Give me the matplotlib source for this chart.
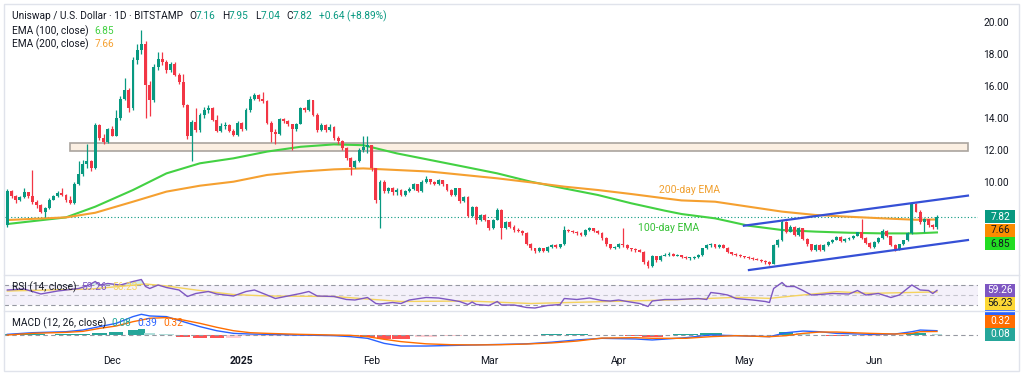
import numpy as np
import pandas as pd
import matplotlib
matplotlib.use('Agg')
import matplotlib.pyplot as plt
from matplotlib.patches import Rectangle
from matplotlib.lines import Line2D
from matplotlib.transforms import IdentityTransform

plt.rcParams['font.family'] = ['Roboto', 'DejaVu Sans']

W, H = 1024, 376

# daily candles UNI/USD (BITSTAMP), open = previous close
start_date = '2024-11-06'
first_open = 7.30
closes = [
    9.45, 9.15, 8.85, 9.05, 9.35, 9.1, 8.75, 8.55, 8.15, 8.35,
    8.9, 9.1, 9.3, 9.2, 8.85, 8.7, 9.9, 10.5, 11.1, 11.3,
    10.85, 13.55, 12.75, 12.5, 13.3, 12.9, 13.98, 15.2, 15.75, 14.6,
    17.6, 18.25, 18.65, 16.05, 15.1, 17.2, 17.7, 17.5, 17.0, 17.35,
    16.7, 16.25, 14.8, 12.85, 13.75, 13.25, 14.2, 14.5, 14.65, 13.9,
    13.2, 13.5, 13.55, 13.2, 12.95, 13.7, 13.3, 14.5, 15.2, 15.45,
    15.2, 15.05, 13.7, 13.15, 13.0, 13.95, 13.8, 13.6, 13.3, 13.65,
    14.6, 14.5, 15.1, 14.2, 13.25, 13.55, 13.25, 13.45, 12.75, 12.55,
    12.1, 11.5, 10.95, 11.3, 12.0, 12.2, 12.3, 10.85, 8.9, 10.0,
    9.45, 9.6, 9.35, 9.5, 9.2, 9.45, 9.55, 9.85, 9.45, 10.0,
    10.2, 10.0, 9.85, 10.1, 9.85, 9.5, 9.2, 9.6, 8.8, 9.05,
    7.85, 8.45, 7.65, 7.95, 7.6, 7.1, 7.65, 8.25, 7.1, 7.5,
    7.2, 7.0, 6.95, 6.8, 6.15, 5.85, 5.7, 5.85, 5.7, 5.95,
    6.05, 5.95, 6.1, 7.0, 6.95, 6.85, 6.8, 6.7, 7.0, 7.1,
    6.95, 6.8, 6.5, 6.1, 5.85, 5.95, 6.15, 6.05, 5.85, 5.8,
    5.75, 5.65, 5.0, 4.75, 5.35, 5.1, 5.4, 5.45, 5.5, 5.4,
    5.45, 5.3, 5.25, 5.25, 5.3, 5.45, 5.85, 6.05, 6.1, 5.95,
    6.05, 5.9, 5.6, 5.5, 5.45, 5.35, 5.3, 5.25, 5.2, 5.15,
    5.05, 5.0, 4.9, 6.05, 6.35, 7.5, 6.9, 7.2, 6.7, 7.1,
    6.45, 6.1, 5.75, 6.05, 5.75, 6.05, 6.25, 6.4, 6.55, 6.3,
    6.45, 6.5, 6.6, 6.85, 6.5, 6.2, 5.95, 6.25, 6.5, 6.95,
    6.6, 6.05, 5.75, 6.1, 6.35, 6.8, 8.6, 8.15, 7.5, 7.7,
    7.3, 7.16, 7.82,
]
highs = [
    9.55, 9.5, 9.2, 9.15, 9.6, 9.4, 10.75, 8.85, 8.6, 8.45,
    9.0, 9.2, 9.45, 9.6, 9.25, 9.1, 10.0, 11.3, 11.4, 12.4,
    11.4, 13.7, 13.6, 13.0, 13.4, 13.5, 14.5, 15.4, 16.5, 15.9,
    17.8, 18.6, 19.5, 18.8, 16.3, 17.4, 18.1, 18.1, 17.6, 17.5,
    17.5, 16.8, 16.75, 14.9, 13.9, 14.6, 14.3, 14.7, 14.8, 14.7,
    14.2, 13.7, 13.75, 13.6, 13.3, 13.8, 13.75, 14.6, 15.35, 15.55,
    15.5, 15.65, 15.1, 13.8, 13.3, 14.0, 14.0, 13.9, 13.65, 13.7,
    14.7, 14.7, 15.2, 15.15, 14.3, 13.7, 13.6, 13.6, 13.5, 12.85,
    12.6, 12.2, 11.55, 11.4, 12.1, 12.85, 12.9, 12.3, 10.9, 10.1,
    10.1, 9.7, 9.7, 9.6, 9.55, 9.5, 9.7, 9.95, 9.9, 10.1,
    10.35, 10.2, 10.05, 10.2, 10.1, 9.9, 9.55, 9.65, 9.65, 9.15,
    9.1, 8.5, 8.5, 8.0, 8.0, 7.65, 7.7, 8.4, 8.3, 7.55,
    7.55, 7.3, 7.1, 7.0, 6.85, 6.2, 5.9, 5.95, 5.9, 6.0,
    6.1, 6.1, 6.15, 7.25, 7.05, 7.0, 6.95, 6.85, 7.05, 7.2,
    7.15, 7.0, 6.85, 6.55, 6.15, 6.0, 6.2, 7.1, 6.1, 5.9,
    5.85, 5.8, 5.7, 5.1, 5.45, 5.4, 5.45, 5.55, 5.6, 5.55,
    5.5, 5.45, 5.35, 5.3, 5.35, 5.5, 5.9, 6.15, 6.2, 6.15,
    6.1, 6.1, 5.95, 5.65, 5.55, 5.5, 5.4, 5.35, 5.3, 5.25,
    5.2, 5.1, 5.05, 6.1, 6.45, 7.6, 7.55, 7.3, 7.25, 7.2,
    7.15, 6.5, 6.15, 6.1, 6.1, 6.1, 6.3, 6.45, 6.6, 6.6,
    6.5, 6.55, 6.7, 6.9, 7.67, 6.55, 6.25, 6.3, 6.55, 7.05,
    7.0, 6.65, 6.1, 6.15, 6.4, 6.85, 8.7, 8.7, 8.25, 7.75,
    7.7, 7.35, 7.95,
]
lows = [
    7.2, 9.0, 8.7, 8.8, 9.0, 9.0, 8.65, 8.4, 8.05, 7.8,
    8.3, 8.85, 9.05, 9.1, 8.75, 8.6, 8.65, 9.8, 10.4, 10.9,
    10.7, 10.8, 12.6, 12.4, 12.45, 12.85, 12.85, 13.9, 15.1, 14.4,
    14.5, 17.4, 18.0, 14.0, 14.1, 15.0, 17.0, 17.3, 16.8, 16.9,
    16.6, 16.1, 14.7, 12.7, 11.3, 13.1, 13.1, 14.0, 14.3, 13.8,
    13.1, 13.1, 13.3, 13.1, 12.85, 12.9, 13.2, 13.25, 14.4, 15.1,
    15.05, 14.95, 13.6, 12.5, 12.4, 12.95, 13.7, 13.5, 12.0, 13.2,
    13.6, 14.35, 14.45, 14.1, 13.1, 13.2, 13.1, 13.2, 12.65, 12.4,
    12.0, 11.4, 10.45, 10.9, 11.25, 11.9, 11.8, 10.7, 8.7, 7.1,
    9.3, 9.3, 9.2, 9.2, 9.1, 9.1, 9.4, 9.5, 9.35, 9.4,
    9.95, 9.9, 9.8, 9.8, 9.75, 9.45, 9.1, 9.15, 8.7, 8.75,
    7.8, 7.8, 7.4, 7.55, 7.55, 7.0, 7.05, 7.6, 6.45, 7.05,
    7.1, 6.9, 6.85, 6.7, 6.05, 5.75, 5.55, 5.65, 5.65, 5.65,
    5.9, 5.9, 5.9, 6.05, 6.85, 6.8, 6.7, 6.6, 6.65, 6.95,
    6.85, 6.75, 6.4, 6.0, 5.8, 5.8, 5.9, 5.95, 5.8, 5.7,
    5.65, 5.6, 4.9, 4.6, 4.7, 5.0, 5.05, 5.35, 5.4, 5.35,
    5.35, 5.25, 5.2, 5.15, 5.2, 5.25, 5.4, 5.8, 5.95, 5.9,
    5.9, 5.85, 5.55, 5.45, 5.4, 5.3, 5.25, 5.2, 5.15, 5.1,
    5.0, 4.9, 4.8, 4.85, 5.95, 6.3, 6.8, 6.85, 6.6, 6.65,
    6.4, 6.0, 5.7, 5.7, 5.7, 5.7, 6.0, 6.2, 6.35, 6.25,
    6.25, 6.4, 6.45, 6.6, 6.45, 6.15, 5.9, 5.9, 6.2, 6.45,
    6.55, 6.0, 5.7, 5.75, 6.05, 6.3, 6.75, 8.1, 7.4, 6.85,
    7.2, 7.05, 7.04,
]

# EMA values read at these bar numbers
ema_x = [0, 14, 21, 30, 38, 46, 54, 62, 70, 78, 85, 93, 101, 109, 117,
         125, 133, 141, 149, 157, 161, 169, 177, 185, 193, 201, 209, 217, 222]
ema100 = [7.375, 7.79, 8.46, 9.5, 10.54, 11.17, 11.48, 11.9, 12.2, 12.35, 12.3,
          11.79, 11.375, 10.96, 10.54, 10.02, 9.6, 9.19, 8.67, 8.21, 8.0, 7.73,
          7.27, 7.0, 6.9, 6.83, 6.79, 6.79, 6.85]
ema200 = [7.625, 7.79, 8.08, 8.77, 9.4, 9.77, 10.02, 10.44, 10.65, 10.79, 10.85,
          10.75, 10.65, 10.44, 10.23, 9.98, 9.71, 9.5, 9.25, 8.98, 8.85, 8.77,
          8.46, 8.15, 7.94, 7.83, 7.73, 7.64, 7.66]

# RSI(14) and its moving average
rsi_x = [0, 4, 8, 12, 17, 19, 21, 22, 24, 27, 30, 32, 33, 34, 36, 38, 41, 43, 45, 48,
         50, 54, 57, 59, 62, 64, 67, 70, 72, 74, 78, 81, 83, 86, 88, 89, 92, 94, 96, 100,
         103, 106, 108, 110, 111, 112, 115, 117, 118, 121, 124, 126, 129, 132, 133, 136,
         139, 142, 144, 146, 148, 151, 153, 154, 157, 160, 165, 167, 168, 170, 172, 174,
         178, 181, 182, 183, 185, 186, 188, 190, 192, 194, 197, 201, 203, 205, 208, 211,
         213, 216, 218, 220, 221, 222]
rsi = [60, 62, 52, 58, 63, 68, 77, 70, 73, 70, 77, 81, 67, 63, 70, 65, 60, 47, 53, 57,
       52, 48, 57, 60, 50, 43, 48, 53, 57, 48, 47, 41, 40, 45, 33, 32, 35, 33, 40, 45,
       44, 40, 37, 31, 36, 31, 29, 37, 30, 30, 25, 24, 29, 31, 43, 41, 44, 39, 38, 40,
       37, 33, 27, 38, 41, 41, 43, 41, 55, 53, 50, 43, 40, 37, 35, 63, 75, 67, 67, 59,
       50, 51, 53, 52, 59, 50, 53, 45, 50, 70, 60, 59, 53, 59.26]
rsi_ma_x = [0, 10, 20, 28, 33, 38, 45, 54, 62, 78, 94, 110, 125, 142, 158, 174, 182,
            186, 194, 198, 206, 214, 222]
rsi_ma = [58, 60, 62, 68, 72, 68, 60, 51, 48, 47, 37, 38, 33, 36.7, 40, 45.3, 43.3,
          46.7, 53.3, 56.7, 53.3, 54.7, 56.23]

# MACD(12, 26) and signal
macd_x = [0, 6, 14, 18, 22, 26, 30, 32, 34, 38, 42, 46, 50, 54, 58, 62, 70, 78, 82, 86,
          90, 94, 100, 106, 112, 118, 124, 130, 136, 142, 150, 154, 162, 168, 174, 182,
          186, 190, 194, 198, 206, 212, 216, 218, 222]
macd = [0.06, 0.21, 0.3, 0.45, 0.76, 1.06, 1.67, 1.88, 1.73, 1.67, 1.21, 0.76, 0.39,
        0.15, 0.09, 0.06, 0.0, -0.06, -0.15, -0.3, -0.76, -1.0, -1.0, -0.95, -0.9,
        -0.85, -0.8, -0.65, -0.45, -0.3, -0.36, -0.45, -0.24, 0.0, -0.06, -0.15, 0.21,
        0.36, 0.3, 0.15, 0.06, 0.09, 0.3, 0.45, 0.39]
signal = [0.0, 0.15, 0.24, 0.33, 0.6, 0.82, 1.21, 1.36, 1.52, 1.58, 1.36, 1.06, 0.7,
          0.39, 0.21, 0.15, 0.06, 0.0, -0.03, -0.15, -0.39, -0.6, -0.8, -0.88, -0.9,
          -0.88, -0.82, -0.72, -0.55, -0.28, -0.24, -0.3, -0.3, -0.15, -0.06, -0.15,
          -0.06, 0.15, 0.27, 0.27, 0.15, 0.09, 0.15, 0.3, 0.32]

# drawn annotations (bar number, price)
zone_x = [14.9, 229.4]
zone_y = [11.96, 12.45]
channel_top_x = [175.9, 229.4]
channel_top_y = [7.27, 9.15]
channel_bot_x = [177.1, 229.4]
channel_bot_y = [4.50, 6.375]

UP, DOWN = '#089981', '#f23645'
DARK = '#131722'
G100, O200 = '#43d143', '#f5a030'
PURPLE, YELLOW = '#7e57c2', '#f5d35e'
BLUE, ORANGE, TEAL = '#2962ff', '#ff6d00', '#26a69a'

n = len(closes)
dates = pd.date_range(start_date, periods=n, freq='D')
x = np.arange(n)
c = np.array(closes)
o = np.r_[first_open, c[:-1]]
hi = np.maximum(np.array(highs), np.maximum(o, c))
lo = np.minimum(np.array(lows), np.minimum(o, c))

fig = plt.figure(figsize=(W / 100, H / 100), dpi=100)


def px_axes(x0, y0, x1, y1):
    a = fig.add_axes([x0 / W, 1 - y1 / H, (x1 - x0) / W, (y1 - y0) / H])
    a.set_xlim(-0.8, 231.8)
    for s in a.spines.values():
        s.set_visible(False)
    a.tick_params(left=False, labelleft=False, bottom=False, labelbottom=False)
    a.patch.set_alpha(0)
    return a


ax = px_axes(4, 5, 978, 275)
ax_rsi = px_axes(4, 275, 978, 311)
ax_macd = px_axes(4, 311, 978, 349)

# main price pane
ax.set_ylim(4.19, 21.06)
ax.add_patch(Rectangle((zone_x[0], zone_y[0]), zone_x[1] - zone_x[0], zone_y[1] - zone_y[0],
                       fc='#fbefe2', ec='#aaa49e', lw=1.2, zorder=1))
col = np.where(c >= o, UP, DOWN)
ax.vlines(x, lo, hi, colors=col, lw=0.9, zorder=3)
ax.bar(x, np.maximum(np.abs(c - o), 0.04), bottom=np.minimum(o, c), width=0.7,
       color=col, lw=0, zorder=3)
ax.plot(ema_x, ema100, color=G100, lw=1.5, zorder=2)
ax.plot(ema_x, ema200, color=O200, lw=1.5, zorder=2)
ax.plot(channel_top_x, channel_top_y, color='#3550d6', lw=1.6, zorder=4)
ax.plot(channel_bot_x, channel_bot_y, color='#3550d6', lw=1.6, zorder=4)
ax.axhline(c[-1], color=UP, ls=(0, (1, 2)), lw=0.8, zorder=1)
ax.text(155.6, 9.5, '200-day EMA', color='#f0a030', fontsize=7.5, va='center')
ax.text(150.5, 7.12, '100-day EMA', color='#35c035', fontsize=7.5, va='center')
ax.yaxis.tick_right()
ax.set_yticks([10, 12, 14, 16, 18, 20])
ax.set_yticklabels([f'{v:.2f}' for v in [10, 12, 14, 16, 18, 20]])
ax.tick_params(axis='y', right=False, labelright=True, length=0, pad=4,
               labelsize=7.3, labelcolor=DARK)

# RSI pane
ax_rsi.set_ylim(18, 90)
ax_rsi.axhspan(30, 70, color=PURPLE, alpha=0.08, lw=0)
for lvl, a in [(70, 1), (50, 0.5), (30, 1)]:
    ax_rsi.axhline(lvl, color='#9598a1', lw=0.8, ls=(0, (4, 3)), alpha=a)
r = np.array(rsi, dtype=float)
ax_rsi.fill_between(rsi_x, 70, r, where=r > 70, interpolate=True, color=UP, alpha=0.18, lw=0)
ax_rsi.plot(rsi_ma_x, rsi_ma, color=YELLOW, lw=1)
ax_rsi.plot(rsi_x, rsi, color=PURPLE, lw=1)

# MACD pane
ax_macd.set_ylim(-1.27, 2.18)
ax_macd.axhline(0, color='#9598a1', lw=0.8, ls=(0, (4, 3)))
mx = np.array(macd_x, dtype=float)
hist = np.array(macd) - np.array(signal)
edges = np.r_[mx[0] - 1, (mx[1:] + mx[:-1]) / 2, mx[-1] + 1]
widths = np.diff(edges) * 0.85
prev = np.r_[0, hist[:-1]]
hcol = np.where(hist >= 0, np.where(hist >= prev, '#26a69a', '#b2dfdb'),
                np.where(hist <= prev, '#ff5252', '#ffcdd2'))
ax_macd.bar(mx, hist, width=widths, color=hcol, lw=0)
ax_macd.plot(macd_x, macd, color=BLUE, lw=1)
ax_macd.plot(macd_x, signal, color=ORANGE, lw=1)

month_starts = dates[dates.day == 1]
tick_pos = [dates.get_loc(d) for d in month_starts]
tick_lab = ['2025' if d.month == 1 else d.strftime('%b') for d in month_starts]
ax_macd.set_xticks(tick_pos)
ax_macd.set_xticklabels(tick_lab)
ax_macd.tick_params(axis='x', labelbottom=True, length=0, pad=5, labelsize=7.5, labelcolor=DARK)
for t in ax_macd.get_xticklabels():
    if t.get_text() == '2025':
        t.set_fontweight('bold')

# frame and pane separators
ID = IdentityTransform()
fig.add_artist(Rectangle((4, H - 371), 1015, 367, transform=ID, fill=False, ec='#e0e3eb', lw=1))
for yy in (275, 311):
    fig.add_artist(Line2D([4, 1019], [H - yy, H - yy], transform=ID, color='#e0e3eb', lw=1))

renderer = fig.canvas.get_renderer()


def text_row(x0, y_top, parts, size=7.3):
    xx = x0
    for s, color, gap in parts:
        t = fig.text(xx, H - y_top, s, color=color, fontsize=size, va='center', ha='left',
                     transform=ID)
        xx += t.get_window_extent(renderer).width + gap


text_row(12, 16, [('Uniswap / U.S. Dollar · 1D · BITSTAMP', DARK, 6),
                  ('O', DARK, 0), ('7.16', UP, 6), ('H', DARK, 0), ('7.95', UP, 6),
                  ('L', DARK, 0), ('7.04', UP, 6), ('C', DARK, 0), ('7.82', UP, 6),
                  ('+0.64 (+8.89%)', UP, 0)])
text_row(12, 31, [('EMA (100, close)', DARK, 6), ('6.85', G100, 0)])
text_row(12, 44, [('EMA (200, close)', DARK, 6), ('7.66', O200, 0)])
text_row(12, 287, [('RSI (14, close)', DARK, 5), ('59.26', PURPLE, 5), ('56.23', YELLOW, 0)])
text_row(12, 323, [('MACD (12, 26, close)', DARK, 5), ('0.08', TEAL, 6), ('0.39', BLUE, 6),
                   ('0.32', ORANGE, 0)])


def tag(y, s, fc, tc):
    fig.add_artist(Rectangle((985, y - 6.5), 30, 13, transform=ID, fc=fc, ec='none'))
    if s:
        fig.text(1000, y, s, color=tc, fontsize=7.3, ha='center', va='center', transform=ID)


def ypos(a, v):
    return a.transData.transform((0, v))[1]


# price scale labels, stacked the way the chart stacks them
y1 = ypos(ax, c[-1])
y2 = min(ypos(ax, ema200[-1]), y1 - 13.5)
y3 = min(ypos(ax, ema100[-1]), y2 - 13.5)
r1 = ypos(ax_rsi, rsi[-1])
r2 = min(ypos(ax_rsi, rsi_ma[-1]), r1 - 13)
m1 = ypos(ax_macd, hist[-1])
m2 = max(ypos(ax_macd, signal[-1]), m1 + 13)
m3 = max(ypos(ax_macd, macd[-1]), m2 + 13)
tag(m3, '', BLUE, 'white')  # MACD-line label, hidden under the RSI labels
tag(y1, '7.82', UP, 'white')
tag(y2, '7.66', '#fb8c00', DARK)
tag(y3, '6.85', '#22dd22', DARK)
tag(r1, '59.26', PURPLE, 'white')
tag(r2, '56.23', '#fdd835', DARK)
tag(m2, '0.32', ORANGE, 'white')
tag(m1, '0.08', TEAL, 'white')

fig.savefig('out.png', dpi=100, facecolor='white')
